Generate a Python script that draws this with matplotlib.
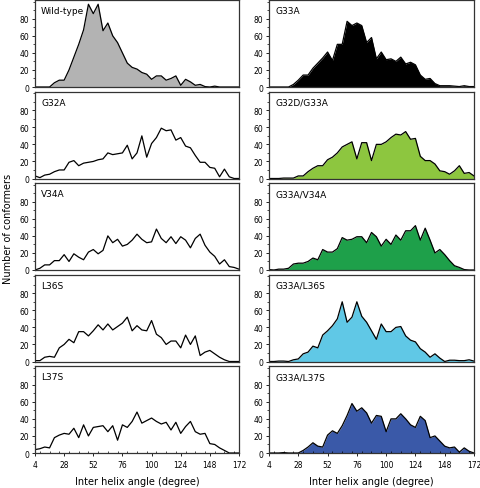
import matplotlib
matplotlib.use('Agg')

import numpy as np
import matplotlib.pyplot as plt
from matplotlib.ticker import MultipleLocator

# bin centres, degrees
angles = list(range(4, 173, 4))

wild_type = [0, 0, 0, 0, 5, 8, 8, 20, 35, 50, 67, 97, 86, 97, 66, 75, 60, 52, 40, 28,
             23, 21, 17, 15, 9, 13, 13, 8, 10, 13, 2, 9, 6, 2, 3, 0.5, 0, 1, 0, 0,
             0, 0, 0]
g33a = [0, 0, 0, 0, 0, 3, 8, 14, 14, 22, 28, 34, 41, 31, 50, 50, 77, 72, 75, 72,
        52, 58, 33, 41, 32, 33, 30, 35, 27, 29, 26, 14, 9, 10, 4, 1.5, 1.5, 1.5, 1, 0.5,
        1.5, 0.5, 0.5]
g32a = [3, 1, 4, 5, 8, 10, 10, 19, 21, 15, 18, 19, 20, 22, 23, 30, 28, 29, 30, 39,
        23, 30, 50, 25, 41, 48, 59, 56, 57, 45, 48, 38, 36, 27, 19, 19, 13, 12, 2, 11,
        2, 0, 0]
g32d_g33a = [0, 0, 0, 0.5, 0.5, 0.5, 3, 3, 8, 12, 15, 15, 22, 25, 30, 37, 40, 43, 23, 42,
             42, 21, 40, 40, 43, 48, 52, 51, 55, 46, 47, 26, 21, 21, 17, 9, 8, 5, 9, 15,
             6, 7, 3]
v34a = [0, 2, 6, 6, 11, 11, 18, 10, 19, 15, 12, 21, 24, 19, 23, 40, 32, 36, 28, 30,
        35, 42, 36, 32, 33, 48, 37, 32, 39, 31, 39, 35, 26, 37, 42, 29, 21, 16, 7, 12,
        4, 3, 1]
g33a_v34a = [0.5, 0, 1, 1, 2, 7, 8, 8, 10, 14, 12, 24, 21, 21, 25, 38, 35, 36, 39, 39,
             32, 44, 39, 28, 36, 30, 41, 35, 46, 46, 52, 35, 49, 35, 20, 24, 18, 11, 5, 3,
             0.5, 0, 0]
l36s = [1, 1, 5, 6, 5, 16, 20, 26, 22, 35, 35, 30, 36, 43, 37, 44, 37, 41, 45, 52,
        36, 42, 37, 36, 48, 32, 28, 20, 24, 24, 16, 31, 20, 30, 7, 11, 13, 9, 5, 2,
        0, 0, 0]
g33a_l36s = [0, 0, 0.5, 0.5, 0, 2, 3, 9, 11, 18, 16, 31, 36, 42, 50, 70, 46, 52, 70, 53,
             46, 36, 26, 44, 35, 35, 40, 41, 30, 25, 23, 15, 11, 5, 9, 4, 0, 1.5, 1.5, 1,
             1, 2, 0.5]
l37s = [4, 5, 7, 6, 18, 21, 23, 22, 29, 18, 33, 20, 30, 31, 32, 25, 32, 15, 33, 30,
        37, 48, 35, 38, 41, 37, 34, 36, 27, 36, 23, 31, 37, 25, 22, 23, 11, 10, 6, 3,
        0, 0, 0]
g33a_l37s = [0, 0, 0, 0.5, 0, 0, 0, 3, 7, 12, 8, 7, 21, 26, 23, 32, 44, 58, 49, 53,
             47, 35, 44, 43, 25, 40, 40, 46, 40, 33, 30, 43, 38, 18, 20, 14, 8, 6, 7, 1,
             6, 2, 0]

left_names = ["Wild-type", "G32A", "V34A", "L36S", "L37S"]
left_data = [wild_type, g32a, v34a, l36s, l37s]
left_fill = ["#b3b3b3", None, None, None, None]

right_names = ["G33A", "G32D/G33A", "G33A/V34A", "G33A/L36S", "G33A/L37S"]
right_data = [g33a, g32d_g33a, g33a_v34a, g33a_l36s, g33a_l37s]
right_fill = ["#000000", "#8dc63f", "#1ea04a", "#60c8e6", "#3a59a8"]

xticks = [4, 28, 52, 76, 100, 124, 148, 172]

fig = plt.figure(figsize=(4.8, 4.89), dpi=100)
W, H = 480, 489


def panel(x0, width, row, name, vals, fill):
    top = 1 + 91.5 * row
    h = 87
    ax = fig.add_axes([x0 / W, 1 - (top + h) / H, width / W, h / H])
    x = np.array(angles)
    y = np.array(vals)
    if fill is not None:
        ax.fill_between(x, 0, y, color=fill, lw=0)
    ax.plot(x, y, color="black", lw=0.9)
    ax.set_xlim(4, 172)
    ax.set_ylim(0, 102)
    ax.set_yticks([0, 20, 40, 60, 80])
    ax.yaxis.set_minor_locator(MultipleLocator(10))
    ax.tick_params(axis="y", labelsize=5.5, length=2, width=0.6, pad=2)
    ax.tick_params(axis="y", which="minor", length=1.2, width=0.5)
    ax.set_xticks(xticks)
    if row == 4:
        ax.xaxis.set_minor_locator(MultipleLocator(8))
        ax.tick_params(axis="x", labelsize=5.5, length=2, width=0.6, pad=3)
        ax.tick_params(axis="x", which="minor", length=1.2, width=0.5, direction="in")
        ax.set_xlabel("Inter helix angle (degree)", fontsize=7, labelpad=5)
    else:
        ax.tick_params(axis="x", length=0, labelbottom=False)
    for s in ax.spines.values():
        s.set_color("#333333")
        s.set_linewidth(0.9)
    ax.text(0.03, 0.93, name, transform=ax.transAxes, fontsize=6.5, va="top", ha="left")
    return ax


for r in range(5):
    panel(35, 204, r, left_names[r], left_data[r], left_fill[r])
    panel(269, 205, r, right_names[r], right_data[r], right_fill[r])

fig.text(8 / W, 1 - 229 / H, "Number of conformers", rotation=90, fontsize=7,
         ha="center", va="center")

fig.savefig("out.png", dpi=100)
plt.close(fig)
